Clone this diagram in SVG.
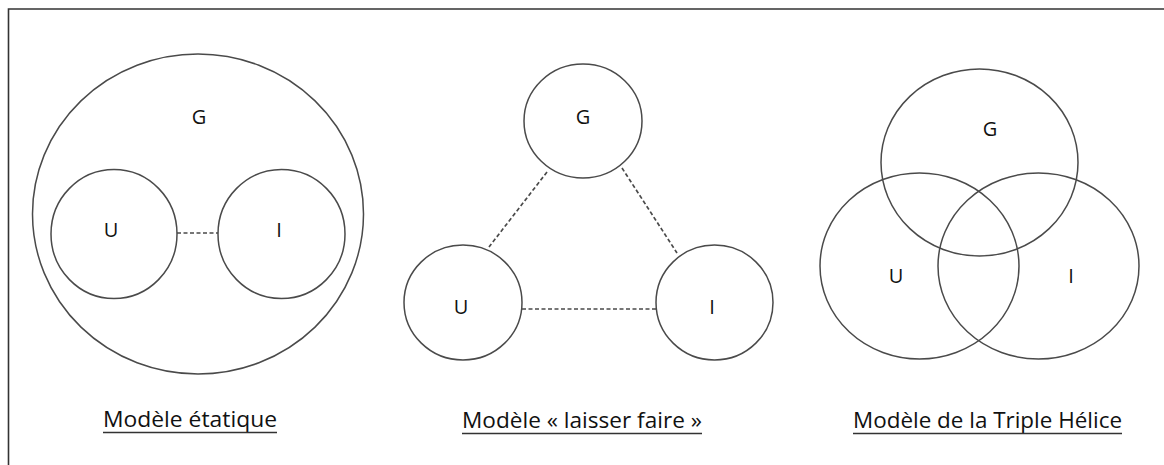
<svg xmlns="http://www.w3.org/2000/svg" width="1164" height="465" viewBox="0 0 1164 465">
<style>
.c{fill:none;stroke:#4a4a4a;stroke-width:1.5}
.d{stroke:#4a4a4a;stroke-width:1.7;stroke-dasharray:4 2.5;fill:none}
.t{font-family:"Open Sans","Liberation Sans",sans-serif;font-size:20px;fill:#111;text-anchor:middle}
.l{font-family:"Open Sans","Liberation Sans",sans-serif;font-size:21px;fill:#111}
.u{stroke:#333;stroke-width:1.6}
</style>
<rect width="1164" height="465" fill="#fff"/>
<path d="M8.5,465 V9 H1164" fill="none" stroke="#333" stroke-width="1.6"/>
<g id="connectors">
<line class="d" x1="177" y1="233" x2="218" y2="233"/>
<line class="d" x1="547" y1="172" x2="489" y2="247"/>
<line class="d" x1="622" y1="168" x2="677" y2="253"/>
<line class="d" x1="522" y1="309" x2="656" y2="309"/>
</g>
<g id="static-G"><ellipse class="c" cx="198" cy="214" rx="165.5" ry="160"/><text class="t" x="199" y="124">G</text></g>
<g id="static-U"><ellipse class="c" cx="114" cy="234" rx="63" ry="64.5"/><text class="t" x="111" y="237">U</text></g>
<g id="static-I"><ellipse class="c" cx="281.5" cy="234" rx="63.5" ry="64.5"/><text class="t" x="279" y="237">I</text></g>
<g id="static-label"><text class="l" x="103" y="427" textLength="174" lengthAdjust="spacingAndGlyphs">Modèle étatique</text><line class="u" x1="103" y1="432.5" x2="277" y2="432.5"/></g>
<g id="lf-G"><ellipse class="c" cx="583" cy="121" rx="59" ry="57"/><text class="t" x="583" y="124">G</text></g>
<g id="lf-U"><ellipse class="c" cx="463" cy="302.5" rx="59" ry="57.5"/><text class="t" x="461" y="314">U</text></g>
<g id="lf-I"><ellipse class="c" cx="714.5" cy="302.5" rx="58.5" ry="57.5"/><text class="t" x="712" y="314">I</text></g>
<g id="lf-label"><text class="l" x="462" y="428" textLength="240" lengthAdjust="spacingAndGlyphs">Modèle « laisser faire »</text><line class="u" x1="462" y1="433.5" x2="702" y2="433.5"/></g>
<g id="th-G"><ellipse class="c" cx="979.5" cy="162.5" rx="98.5" ry="93.5"/><text class="t" x="990" y="136">G</text></g>
<g id="th-U"><ellipse class="c" cx="919.5" cy="266" rx="99.5" ry="93"/><text class="t" x="896" y="283">U</text></g>
<g id="th-I"><ellipse class="c" cx="1038.5" cy="266" rx="100.5" ry="93"/><text class="t" x="1071" y="283">I</text></g>
<g id="th-label"><text class="l" x="853" y="428" textLength="269" lengthAdjust="spacingAndGlyphs">Modèle de la Triple Hélice</text><line class="u" x1="853" y1="433.5" x2="1122" y2="433.5"/></g>
</svg>
